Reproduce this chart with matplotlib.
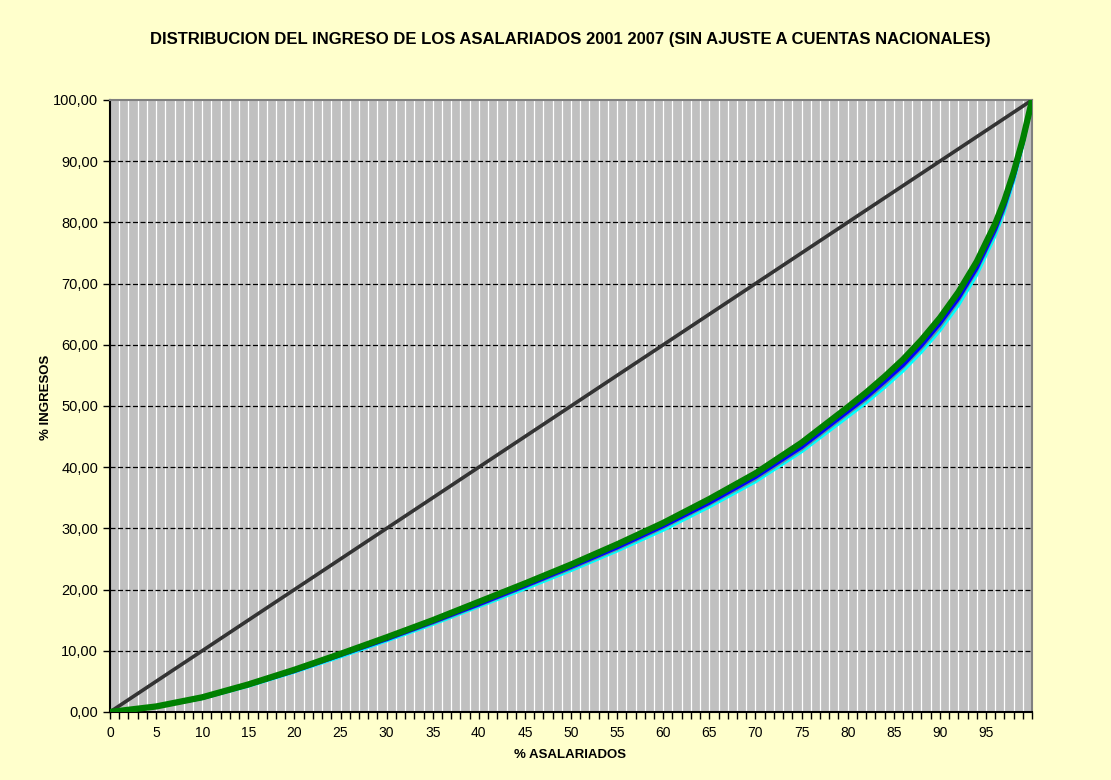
import matplotlib
matplotlib.use("Agg")
import matplotlib.pyplot as plt
from matplotlib.ticker import FuncFormatter

plt.rcParams['font.family'] = ['Liberation Sans', 'DejaVu Sans']

#### Data ####
pct_asal = [0, 5, 10, 15, 20, 25, 30, 35, 40, 45, 50, 55, 60, 65, 70, 75, 80,
            82, 84, 86, 88, 90, 92, 94, 96, 97, 98, 99, 100]

# linea de igualdad
igualdad = [0, 5, 10, 15, 20, 25, 30, 35, 40, 45, 50, 55, 60, 65, 70, 75, 80,
            82, 84, 86, 88, 90, 92, 94, 96, 97, 98, 99, 100]

serie_cyan = [0, 0.8, 2.2, 4.2, 6.5, 9.0, 11.6, 14.3, 17.2, 20.1, 23.1, 26.3, 29.7, 33.5, 37.6, 42.5, 48.2,
              50.5, 53.0, 55.7, 58.8, 62.3, 66.4, 71.4, 77.8, 81.8, 86.7, 92.6, 100]
serie_teal = [0, 0.8, 2.3, 4.3, 6.6, 9.2, 11.8, 14.5, 17.4, 20.4, 23.4, 26.6, 30.1, 33.9, 38.0, 42.9, 48.7,
              51.0, 53.5, 56.3, 59.4, 62.9, 67.1, 72.1, 78.4, 82.3, 87.2, 92.9, 100]
serie_azul = [0, 0.9, 2.3, 4.4, 6.7, 9.3, 11.9, 14.7, 17.6, 20.6, 23.7, 26.9, 30.4, 34.2, 38.4, 43.3, 49.1,
              51.4, 54.0, 56.7, 59.9, 63.5, 67.6, 72.6, 78.9, 82.8, 87.5, 93.2, 100]
serie_verde = [0, 0.9, 2.4, 4.5, 6.9, 9.5, 12.2, 15.0, 18.0, 21.0, 24.1, 27.4, 30.9, 34.8, 39.0, 44.0, 49.8,
               52.2, 54.8, 57.6, 60.8, 64.4, 68.6, 73.6, 79.8, 83.6, 88.2, 93.6, 100]

y_ticks = [0, 10, 20, 30, 40, 50, 60, 70, 80, 90, 100]
x_labels = list(range(0, 100, 5))

#### Plot ####
fig = plt.figure(figsize=(11.11, 7.8), dpi=100, facecolor='#FFFFCC')
ax = fig.add_axes([0.099, 0.0872, 0.83, 0.7846])
ax.set_facecolor('#C0C0C0')

# grilla vertical blanca, una por categoria
for xv in range(1, 100):
    ax.axvline(xv, color='white', lw=0.9, zorder=1)
for yv in y_ticks[1:-1]:
    ax.axhline(yv, color='black', lw=0.9, ls=(0, (4, 2)), zorder=2)

ax.plot(pct_asal, igualdad, color='#333333', lw=2.6, zorder=3)
ax.plot(pct_asal, serie_cyan, color='#00FFFF', lw=2.2, zorder=4)
ax.plot(pct_asal, serie_teal, color='#669999', lw=2.2, zorder=5)
ax.plot(pct_asal, serie_azul, color='#0000FF', lw=3.0, zorder=6)
ax.plot(pct_asal, serie_verde, color='#008000', lw=4.5, zorder=7)

ax.set_xlim(0, 100)
ax.set_ylim(0, 100)
ax.set_xticks(range(0, 101))
ax.set_xticklabels([str(v) if v in x_labels else '' for v in range(0, 101)])
ax.set_yticks(y_ticks)
ax.yaxis.set_major_formatter(FuncFormatter(lambda v, p: ('%.2f' % v).replace('.', ',')))
ax.tick_params(axis='both', direction='out', length=5, width=1, labelsize=10, colors='black')
ax.tick_params(axis='x', pad=5)
ax.tick_params(axis='y', labelsize=10.5)

for s in ['top', 'right']:
    ax.spines[s].set_color('#808080')
    ax.spines[s].set_linewidth(1.5)
for s in ['left', 'bottom']:
    ax.spines[s].set_color('black')
    ax.spines[s].set_linewidth(1.5)

fig.text(0.513, 0.949, 'DISTRIBUCION DEL INGRESO DE LOS ASALARIADOS 2001 2007 (SIN AJUSTE A CUENTAS NACIONALES)',
         ha='center', va='center', fontsize=12, fontweight='bold')
fig.text(0.513, 0.032, '% ASALARIADOS', ha='center', va='center', fontsize=9.5, fontweight='bold')
fig.text(0.041, 0.49, '% INGRESOS', ha='center', va='center', rotation=90, fontsize=9.5, fontweight='bold')

fig.savefig('out.png', dpi=100, facecolor=fig.get_facecolor())
